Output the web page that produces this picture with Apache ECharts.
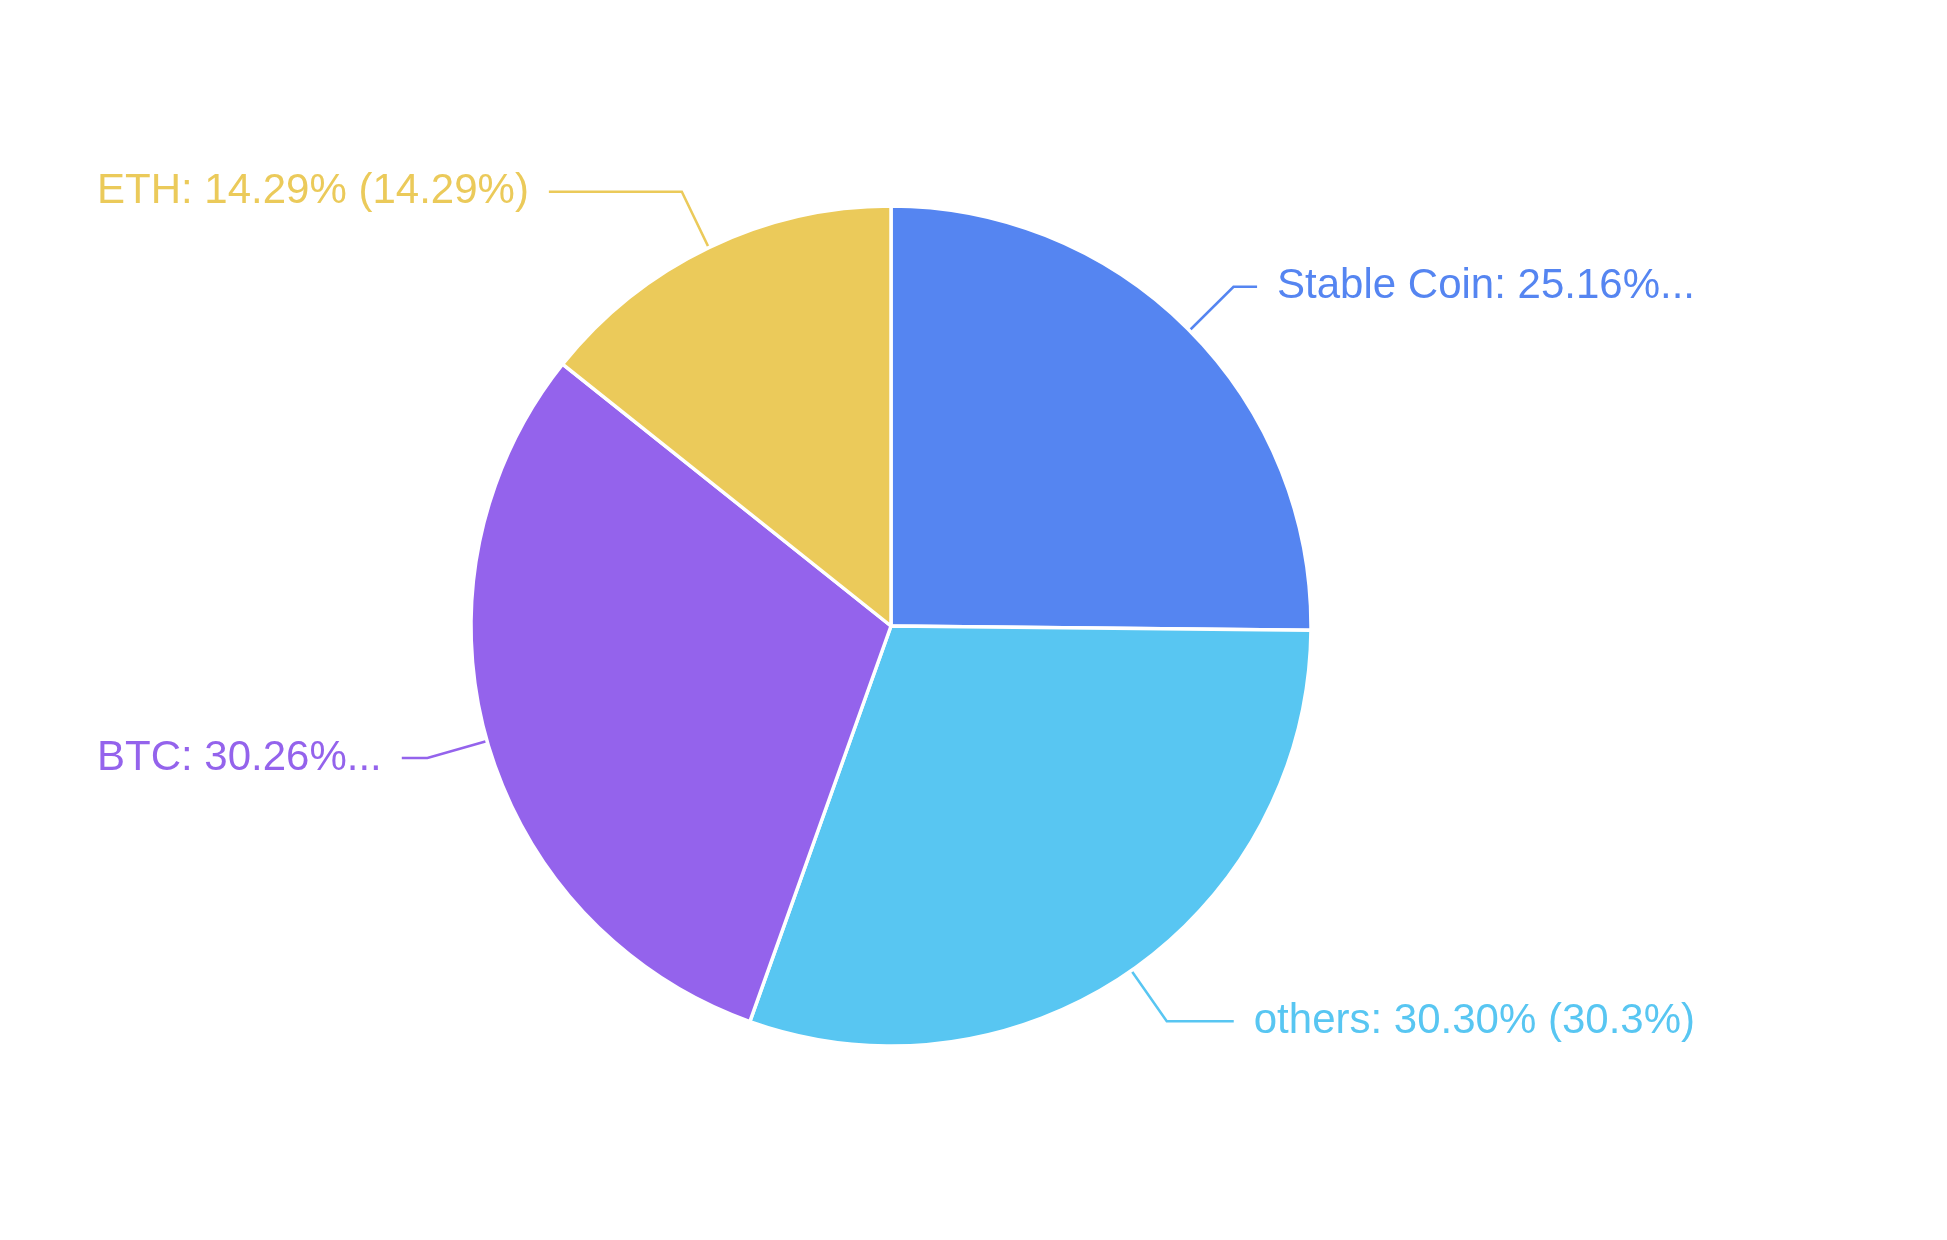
<!DOCTYPE html>
<html>
<head>
<meta charset="utf-8">
<style>
  html, body { margin: 0; padding: 0; background: #ffffff; }
  #chart { width: 1947px; height: 1240px; }
</style>
<script src="https://cdn.jsdelivr.net/npm/echarts@6/dist/echarts.min.js"></script>
</head>
<body>
<div id="chart"></div>
<script>
const categories = ['Stable Coin', 'others', 'BTC', 'ETH'];
const values = [25.16, 30.3, 30.26, 14.29];
const colors = ['#5585F1', '#58C6F2', '#9463EC', '#EBCA5A'];

const total = values.reduce((a, b) => a + b, 0);

const chart = echarts.init(document.getElementById('chart'), null, { renderer: 'canvas' });
chart.setOption({
  animation: false,
  backgroundColor: '#ffffff',
  series: [{
    type: 'pie',
    left: 0,
    top: 0,
    width: 1792,
    height: 1240,
    center: [891, 626],
    radius: 420,
    startAngle: 90,
    clockwise: true,
    avoidLabelOverlap: true,
    itemStyle: { borderColor: '#ffffff', borderWidth: 3.5 },
    label: {
      show: true,
      position: 'outside',
      alignTo: 'edge',
      edgeDistance: 97,
      distanceToLabelLine: 20,
      fontFamily: 'Liberation Sans, Arial, sans-serif',
      fontSize: 42,
      overflow: 'truncate',
      ellipsis: '...',
      formatter: function (p) {
        const pct = (values[p.dataIndex] / total * 100).toFixed(2);
        return p.name + ': ' + pct + '% (' + p.value + '%)';
      }
    },
    labelLine: {
      show: true,
      length: 62,
      length2: 18,
      lineStyle: { width: 2.5 }
    },
    emphasis: { disabled: true },
    data: categories.map((c, i) => ({
      name: c,
      value: values[i],
      itemStyle: { color: colors[i] },
      label: { color: colors[i] }
    }))
  }]
});
</script>
</body>
</html>
